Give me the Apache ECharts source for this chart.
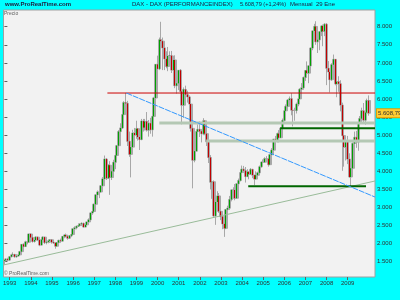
<!DOCTYPE html>
<html><head><meta charset="utf-8">
<script src="https://cdn.jsdelivr.net/npm/echarts@6/dist/echarts.min.js"></script>
<style>html,body{margin:0;padding:0;background:#00ffff;}#c{width:400px;height:300px;}</style>
</head><body><div id="c"></div>
<script>
// Monthly candles [open, close, low, high], Oct 1992 .. Jan 2010
const y1992 = [[1520,1540,1420,1580],[1540,1570,1510,1600],[1570,1545,1520,1610]];
const y1993 = [[1545,1640,1530,1650],[1640,1690,1620,1720],[1690,1700,1660,1760],[1700,1640,1610,1720],[1640,1660,1610,1690],[1660,1690,1640,1720],[1690,1780,1680,1800],[1780,1980,1770,1990],[1980,1920,1880,2010],[1920,2050,1910,2080],[2050,2040,1980,2090],[2040,2267,2030,2280]];
const y1994 = [[2267,2170,2150,2290],[2170,2060,2030,2200],[2060,2100,2030,2180],[2100,2180,2080,2210],[2180,2100,2070,2200],[2100,1960,1930,2110],[1960,2110,1950,2130],[2110,2180,2090,2210],[2180,2030,1990,2190],[2030,2050,1980,2090],[2050,2080,2010,2110],[2080,2107,2020,2120]];
const y1995 = [[2107,2040,2000,2120],[2040,2020,1990,2080],[2020,1930,1860,2030],[1930,2030,1920,2040],[2030,2090,2020,2110],[2090,2070,2050,2140],[2070,2200,2060,2210],[2200,2240,2150,2260],[2240,2200,2170,2280],[2200,2150,2110,2220],[2150,2220,2140,2240],[2220,2254,2180,2270]];
const y1996 = [[2254,2410,2250,2420],[2410,2440,2390,2480],[2440,2480,2400,2500],[2480,2500,2460,2560],[2500,2540,2490,2570],[2540,2560,2500,2590],[2560,2460,2440,2580],[2460,2520,2450,2540],[2520,2600,2490,2610],[2600,2660,2590,2700],[2660,2850,2650,2860],[2850,2889,2800,2910]];
const y1997 = [[2889,3090,2870,3110],[3090,3350,3070,3370],[3350,3430,3250,3470],[3430,3430,3260,3460],[3430,3600,3400,3620],[3600,3790,3570,3840],[3790,4340,3780,4438],[4340,3810,3760,4370],[3810,4170,3790,4200],[4170,3830,3350,4280],[3830,4000,3760,4060],[4000,4250,3960,4320]];
const y1998 = [[4250,4440,4060,4470],[4440,4710,4420,4730],[4710,5100,4690,5140],[5100,5200,5000,5330],[5200,5570,5170,5600],[5570,5900,5500,5940],[5900,5880,5700,6170],[5880,4830,4700,5950],[4830,4470,4400,5100],[4470,4670,3833,4700],[4670,5060,4600,5150],[5060,5002,4700,5200]];
const y1999 = [[5002,5180,4900,5400],[5180,4950,4850,5200],[4950,4880,4590,5080],[4880,5390,4860,5450],[5390,5210,5100,5450],[5210,5380,5130,5450],[5380,5140,5100,5640],[5140,5330,4960,5420],[5330,5150,5040,5480],[5150,5520,4960,5560],[5520,6030,5480,6060],[6030,6958,6000,6960]];
const y2000 = [[6958,6835,6400,7200],[6835,7640,6800,7700],[7640,7600,7100,8136],[7600,7414,6800,7700],[7414,7110,6800,7500],[7110,6900,6850,7320],[6900,7190,6770,7440],[7190,7200,6950,7320],[7200,6800,6720,7330],[6800,7080,6600,7200],[7080,6370,6300,7210],[6370,6434,6150,6650]];
const y2001 = [[6434,6795,6250,6800],[6795,6208,6150,6830],[6208,5830,5300,6250],[5830,6264,5480,6320],[6264,6123,6030,6370],[6123,6058,5900,6230],[6058,5861,5500,6100],[5861,5188,5100,5930],[5188,4308,3530,5300],[4308,4559,4250,4830],[4559,5100,4550,5140],[5100,5160,4900,5300]];
const y2002 = [[5160,5107,4950,5380],[5107,5039,4800,5140],[5039,5397,5000,5470],[5397,5041,5000,5420],[5041,4818,4700,5180],[4818,4383,4230,4840],[4383,3700,3500,4450],[3700,3712,3240,3920],[3712,2769,2740,3750],[2769,3153,2520,3250],[3153,3320,3000,3450],[3320,2893,2850,3400]];
const y2003 = [[2893,2748,2650,3160],[2748,2547,2400,2850],[2547,2424,2188,2700],[2424,2942,2400,2960],[2942,2982,2800,3050],[2982,3221,2950,3320],[3221,3487,3170,3500],[3487,3484,3250,3560],[3484,3257,3200,3650],[3257,3655,3250,3670],[3655,3746,3600,3800],[3746,3965,3720,3970]];
const y2004 = [[3965,4058,3900,4160],[4058,4018,3960,4150],[4018,3856,3690,4120],[3856,3985,3840,4060],[3985,3921,3780,4000],[3921,4053,3900,4090],[4053,3895,3810,4070],[3895,3785,3618,3900],[3785,3893,3780,4000],[3893,3960,3830,3990],[3960,4126,3950,4160],[4126,4256,4100,4270]];
const y2005 = [[4256,4254,4150,4330],[4254,4350,4240,4390],[4350,4349,4270,4420],[4349,4185,4130,4390],[4185,4460,4170,4470],[4460,4586,4430,4640],[4586,4887,4570,4900],[4887,4829,4750,4980],[4829,5044,4800,5070],[5044,4929,4800,5140],[4929,5193,4920,5200],[5193,5408,5180,5460]];
const y2006 = [[5408,5674,5380,5700],[5674,5796,5600,5850],[5796,5970,5700,6000],[5970,6009,5860,6070],[6009,5692,5550,6162],[5692,5683,5243,5800],[5683,5682,5400,5760],[5682,5859,5600,5900],[5859,6004,5800,6040],[6004,6269,5980,6300],[6269,6309,6190,6440],[6309,6597,6270,6620]];
const y2007 = [[6597,6789,6500,6800],[6789,6716,6600,7040],[6716,6917,6438,6940],[6917,7409,6900,7430],[7409,7884,7350,7890],[7884,8007,7640,8080],[8007,7584,7500,8151],[7584,7638,7273,7680],[7638,7862,7350,7880],[7862,8020,7740,8040],[8020,7871,7460,8060],[7871,8067,7740,8100]];
const y2008 = [[8067,6851,6384,8100],[6851,6748,6620,7050],[6748,6535,6182,6800],[6535,6949,6500,6990],[6949,7097,6900,7230],[7097,6418,6380,7100],[6418,6479,6050,6600],[6479,6422,6200,6630],[6422,5831,5660,6520],[5831,4988,4014,5900],[4988,4669,4130,5130],[4669,4810,4300,4850]];
const y2009 = [[4810,4338,4200,4980],[4338,3844,3820,4500],[3844,4085,3589,4200],[4085,4770,4000,4800],[4770,4940,4600,5100],[4940,4809,4650,5120],[4809,5332,4570,5340],[5332,5458,5200,5530],[5458,5675,5350,5760],[5675,5415,5330,5890],[5415,5625,5290,5810],[5625,5957,5520,6010]];
const y2010 = [[5957,5608.79,5540,6100]];

const yTicks = [1500,2000,2500,3000,3500,4000,4500,5000,5500,6000,6500,7000,7500,8000];
const lastPrice = 5608.79;

// Trend / support lines: [monthIndex, price]
const redLine = [[58.5,6166],[210.5,6166]];
const blueLine = [[69.3,6166],[210.5,3290]];
const greenThin = [[-0.5,1410],[210.5,3733]];
const band1 = [[88,5337],[210.5,5337]];
const band2 = [[114.6,4839],[210.5,4839]];
const dark1 = [[156.6,5190],[210.5,5190]];
const dark2 = [[138.5,3586],[205.4,3586]];

const candles = [].concat(y1992,y1993,y1994,y1995,y1996,y1997,y1998,y1999,y2000,y2001,y2002,y2003,y2004,y2005,y2006,y2007,y2008,y2009,y2010);
const cats = [];
cats.push('1992-10','1992-11','1992-12');
for (let y=1993;y<=2009;y++) for (let m=1;m<=12;m++) cats.push(y+'-'+(m<10?'0'+m:m));
cats.push('2010-01','2010-02','2010-03','2010-04');

const wickData = candles.map(c=>[c[0],c[1],c[2],c[3]]);
const bodyData = candles.map(c=>[c[0],c[1],Math.min(c[0],c[1]),Math.max(c[0],c[1])]);
const fmt = v => String(v).replace(/\B(?=(\d{3})+(?!\d))/g,'.');
const isJan = (i,v)=> /-01$/.test(v) && v!=='2010-01';
const F = 'Liberation Sans, Arial, sans-serif';

const chart = echarts.init(document.getElementById('c'));
const lineS = (d,color,w,type,z)=>({type:'line',xAxisIndex:1,data:d,symbol:'none',silent:true,z:z||5,
  lineStyle:{color:color,width:w,type:type||'solid'},animation:false});
chart.setOption({
  animation:false,
  backgroundColor:'#00ffff',
  grid:{left:3,top:10,right:25,bottom:23,show:true,backgroundColor:'#f2f2f2',borderColor:'#a0a0a0',borderWidth:1},
  xAxis:[{type:'category',data:cats,boundaryGap:true,
    axisLine:{show:false},
    axisTick:{show:true,interval:isJan,alignWithLabel:true,length:3,lineStyle:{color:'#606060'}},
    axisLabel:{interval:isJan,formatter:v=>v.slice(0,4),fontSize:6,color:'#303030',margin:3,fontFamily:F},
    splitLine:{show:false}},
   {type:'value',min:-0.5,max:210.5,show:false}],
  yAxis:{type:'value',position:'right',min:1078,max:8462,scale:false,
    axisLine:{show:false},splitLine:{show:false},
    axisTick:{show:true,customValues:yTicks,length:3,lineStyle:{color:'#606060'}},
    axisLabel:{customValues:yTicks,formatter:fmt,fontSize:6,color:'#303030',margin:2,fontFamily:F}},
  graphic:[
    {type:'text',left:5,top:1,style:{text:'www.ProRealTime.com',font:'bold 6px '+F,fill:'#202040'}},
    {type:'text',left:132,top:1,style:{text:'DAX - DAX (PERFORMANCEINDEX)',font:'6px '+F,fill:'#202040'}},
    {type:'text',left:240,top:1,style:{text:'5.608,79 (+1,24%)',font:'5.6px '+F,fill:'#202040'}},
    {type:'text',left:290,top:1,style:{text:'Mensual  29 Ene',font:'6px '+F,fill:'#202040'}},
    {type:'text',left:4,top:11,style:{text:'Precio',font:'5px '+F,fill:'#606060'}},
    {type:'text',left:4,top:271,style:{text:'© ProRealTime.com',font:'5px '+F,fill:'#606060'}}
  ],
  series:[
    {type:'candlestick',data:wickData,barWidth:3,silent:true,z:2,
      itemStyle:{color:'#a8a8a8',color0:'#a8a8a8',borderColor:'#a8a8a8',borderColor0:'#a8a8a8',borderWidth:1}},
    {type:'candlestick',data:bodyData,barWidth:1,silent:true,z:3,
      itemStyle:{color:'#00a000',color0:'#c00000',borderColor:'#00a000',borderColor0:'#c00000',borderWidth:1}},
    {type:'line',data:[],silent:true,z:8,
      markLine:{symbol:'none',silent:true,lineStyle:{color:'rgba(0,0,0,0)',width:0},
        label:{show:true,position:'end',distance:2,formatter:'5.608,79',fontSize:6,fontFamily:F,color:'#303030',
          backgroundColor:'#ffcc33',borderColor:'#e0a000',borderWidth:1,padding:[1,1,1,1]},
        data:[{yAxis:lastPrice}]}},
    lineS(greenThin,'#99bb99',1),
    lineS(band1,'#b4c8b4',3),
    lineS(band2,'#b4c8b4',3),
    lineS(dark1,'#006600',2,'solid',6),
    lineS(dark2,'#006600',2,'solid',6),
    lineS(redLine,'#cc0000',1,'solid',6),
    lineS(blueLine,'#3399ff',1,[6,1],6)
  ]
});
</script></body></html>
